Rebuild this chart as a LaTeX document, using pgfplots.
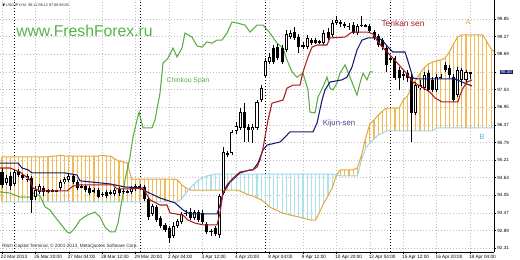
\documentclass[border=0pt]{standalone}
\usepackage{fontspec}
\setmainfont{Liberation Sans}
\newfontfamily\dejavu{DejaVu Sans}
\usepackage{pgfplots}
\usepackage{pgfplotstable}
\pgfplotsset{compat=1.18}
\definecolor{tenkan}{RGB}{170,30,30}
\definecolor{kijun}{RGB}{25,25,115}
\definecolor{chinkou}{RGB}{90,172,70}
\definecolor{spanA}{RGB}{226,166,62}
\definecolor{spanB}{RGB}{160,215,226}
\definecolor{hatchA}{RGB}{242,186,84}
\definecolor{hatchB}{RGB}{172,224,234}
\definecolor{labB}{RGB}{90,180,205}
\definecolor{gridc}{RGB}{190,190,190}
\definecolor{navybox}{RGB}{22,22,112}
\definecolor{wm}{RGB}{84,178,72}

% USDJPY H4 candles: open high low close
\pgfplotstableread{
o h l c
94.85 94.98 94.33 94.43
94.49 94.75 94.43 94.65
94.72 94.85 94.26 94.39
94.46 94.92 94.39 94.85
94.88 94.95 94.69 94.75
94.75 94.78 94.59 94.65
94.59 94.78 94.52 94.72
94.65 94.72 93.51 93.94
94.03 94.39 93.94 94.26
94.20 94.46 94.13 94.39
94.33 94.39 94.07 94.20
94.23 94.30 94.16 94.26
94.26 94.30 94.20 94.23
94.23 94.26 94.20 94.26
94.33 94.59 94.26 94.52
94.52 94.69 94.46 94.62
94.59 94.82 94.52 94.72
94.72 94.78 94.46 94.52
94.52 94.59 94.26 94.33
94.36 94.46 94.33 94.39
94.39 94.43 94.20 94.26
94.33 94.39 94.10 94.16
94.23 94.33 94.16 94.26
94.26 94.33 94.00 94.03
94.10 94.20 94.03 94.13
94.20 94.26 94.00 94.07
94.16 94.26 94.10 94.20
94.13 94.33 94.07 94.26
94.30 94.36 94.07 94.16
94.20 94.30 94.13 94.23
94.20 94.26 94.16 94.20
94.20 94.39 94.13 94.33
94.30 94.46 94.23 94.39
94.39 94.46 94.26 94.33
94.36 94.43 93.90 93.97
93.97 94.03 93.28 93.38
93.48 93.80 93.41 93.74
93.71 93.77 93.22 93.28
93.34 93.41 93.02 93.08
93.12 93.18 92.89 92.96
93.02 93.08 92.53 92.69
92.75 93.22 92.69 93.08
93.08 93.31 93.02 93.25
93.22 93.54 93.15 93.48
93.48 93.61 93.41 93.51
93.54 93.67 93.28 93.34
93.34 93.61 93.28 93.54
93.54 93.61 93.22 93.28
93.51 93.61 93.15 93.22
93.15 93.22 92.82 92.89
92.92 92.99 92.75 92.89
93.02 93.08 92.75 92.82
92.79 94.13 92.69 94.07
94.16 95.67 94.10 95.50
95.47 95.54 95.34 95.40
95.47 96.22 95.40 96.16
96.19 96.48 96.09 96.35
96.29 96.94 96.22 96.81
96.81 97.10 95.83 96.29
96.32 96.42 95.83 96.22
96.22 96.42 95.80 96.32
96.29 97.20 96.22 97.14
97.20 97.69 97.14 97.59
97.99 98.57 97.92 98.48
98.44 98.74 98.38 98.61
98.90 99.00 98.38 98.44
98.93 99.03 98.51 98.57
98.90 99.00 98.38 98.44
98.84 99.49 98.77 99.36
99.26 99.49 99.20 99.39
99.42 99.59 99.16 99.23
99.26 99.36 98.74 98.93
99.00 99.10 98.87 98.93
98.93 99.33 98.87 99.23
99.16 99.23 99.00 99.06
99.16 99.23 99.03 99.06
99.10 99.16 99.03 99.10
99.06 99.49 99.00 99.39
99.42 99.55 99.16 99.23
99.33 99.82 99.26 99.72
99.72 99.95 99.65 99.82
99.75 99.82 99.59 99.69
99.65 99.75 99.55 99.69
99.62 99.72 99.49 99.59
99.65 99.75 99.36 99.39
99.39 99.69 99.33 99.62
99.65 99.95 99.59 99.65
99.65 99.69 99.59 99.62
99.62 99.69 99.39 99.46
99.42 99.49 99.16 99.23
99.29 99.36 98.93 99.00
99.16 99.23 98.84 98.93
98.90 99.00 98.12 98.35
98.57 98.64 98.44 98.51
98.57 98.64 97.85 97.92
98.18 98.28 97.53 97.92
98.05 98.18 97.85 98.02
98.08 98.18 97.79 97.92
97.95 98.05 95.83 96.78
96.78 97.79 96.71 97.69
97.59 97.86 97.53 97.69
97.59 98.12 97.53 98.02
98.08 98.18 97.46 97.53
97.86 97.95 97.46 97.53
97.53 98.05 97.46 97.95
97.95 98.05 97.89 97.95
98.35 98.44 98.12 98.18
98.25 98.35 97.92 98.02
97.95 98.05 97.14 97.20
97.36 98.28 97.30 98.18
97.86 98.25 97.66 98.18
97.86 98.18 97.79 98.12
98.12 98.12 97.88 98.08
}\candles

% Senkou span A and B per bar
\pgfplotstableread{
b A B
0 95.34 93.87
1 95.34 93.87
2 95.34 93.87
3 95.34 93.87
4 95.34 93.87
5 95.34 93.87
6 95.34 93.87
7 95.34 93.87
8 95.34 93.87
9 95.34 93.87
10 95.34 93.87
11 95.34 93.87
12 95.37 93.87
13 95.37 93.87
14 95.40 93.87
15 95.37 93.87
16 95.37 93.87
17 95.37 93.87
18 95.37 93.87
19 95.37 93.87
20 95.37 93.87
21 95.37 93.87
22 95.37 93.87
23 95.37 93.87
24 95.40 93.87
25 95.37 93.87
26 95.37 93.87
27 95.27 93.87
28 95.21 93.87
29 95.18 93.87
30 95.14 93.87
31 94.62 93.87
32 94.62 93.87
33 94.62 93.87
34 94.62 93.87
35 94.62 93.87
36 94.62 93.87
37 94.62 93.87
38 94.62 93.87
39 94.62 93.87
40 94.62 93.87
41 94.62 93.87
42 94.59 93.87
43 94.43 93.97
44 94.33 94.16
45 94.26 94.33
46 94.26 94.46
47 94.26 94.59
48 94.26 94.65
49 94.26 94.72
50 94.26 94.75
51 94.26 94.78
52 94.26 94.78
53 94.26 94.78
54 94.26 94.78
55 94.26 94.78
56 94.26 94.78
57 94.23 94.78
58 94.16 94.78
59 94.10 94.78
60 94.07 94.78
61 94.00 94.78
62 93.94 94.78
63 93.84 94.78
64 93.71 94.78
65 93.64 94.78
66 93.58 94.78
67 93.51 94.78
68 93.48 94.78
69 93.44 94.78
70 93.41 94.78
71 93.38 94.78
72 93.34 94.78
73 93.31 94.78
74 93.28 94.78
75 93.28 94.78
76 93.54 94.78
77 93.84 94.78
78 94.07 94.78
79 94.33 94.78
80 94.75 94.75
81 94.92 94.72
82 94.92 94.72
83 94.92 94.72
84 94.92 94.72
85 94.98 94.72
86 95.40 95.24
87 95.96 95.63
88 96.42 95.80
89 96.55 95.93
90 96.71 96.06
91 96.84 96.12
92 96.94 96.19
93 96.94 96.19
94 96.94 96.19
95 96.94 96.19
96 97.20 96.19
97 97.33 96.19
98 97.66 96.19
99 97.86 96.19
100 98.08 96.19
101 98.25 96.19
102 98.38 96.19
103 98.44 96.19
104 98.48 96.29
105 98.51 96.29
106 98.57 96.29
107 98.77 96.29
108 99.03 96.29
109 99.26 96.29
110 99.33 96.29
111 99.33 96.29
112 99.33 96.29
113 99.33 96.29
114 99.33 96.29
115 99.33 96.29
116 99.10 96.29
117 98.87 96.29
118 98.74 96.29
}\cloud

\pgfplotsset{barstyle/.style={only marks, mark size=0pt, mark options={draw=none, fill=none}, forget plot,
  error bars/.cd, y dir=both, y explicit, error mark=none}}

\begin{document}
\begin{tikzpicture}
\begin{axis}[
  at={(0,0)}, anchor=south west,
  scale only axis, width=370.5pt, height=189pt,
  xmin=-0.478, xmax=117.70, ymin=92.235, ymax=100.471,
  axis x line*=bottom, axis y line*=right,
  axis line style={line width=0.6pt, black},
  xtick={0,8,...,112},
  xticklabels={22 Mar 2013,25 Mar 20:00,27 Mar 04:00,28 Mar 12:00,29 Mar 20:00,2 Apr 04:00,3 Apr 12:00,4 Apr 20:00,8 Apr 04:00,9 Apr 12:00,10 Apr 20:00,12 Apr 04:00,15 Apr 12:00,16 Apr 20:00,18 Apr 04:00},
  ytick={92.357,92.932,93.510,94.085,94.661,95.239,95.814,96.389,96.968,97.543,98.121,98.697,99.275,99.850},
  yticklabels={92.31,92.89,93.47,94.05,94.63,95.21,95.79,96.37,96.95,97.53,{},98.69,99.27,99.85},
  tick align=outside, major tick length=1.6pt,
  tick style={black, line width=0.45pt},
  grid=major,
  major grid style={gridc, line width=0.45pt, dash pattern=on 0.75pt off 1.5pt},
  xticklabel style={font=\fontsize{3.5}{4}\selectfont, anchor=north west, inner xsep=0pt, inner ysep=0.4pt, xshift=-1pt},
  yticklabel style={font=\fontsize{3.4}{4}\selectfont, anchor=west, inner xsep=0.8pt},
  extra x ticks={3,33,63,93},
  extra x tick labels={},
  extra x tick style={grid=major, major grid style={black, line width=0.5pt, dash pattern=on 0.75pt off 1.5pt}, major tick length=0pt},
  clip=true,
]
% cloud hatching
\addplot[barstyle, error bar style={draw=hatchA, line width=0.85pt}]
  table[x=b, y expr={(\thisrow{A}+\thisrow{B})/2}, y error expr={max(\thisrow{A}-\thisrow{B},0)/2}] {\cloud};
\addplot[barstyle, error bar style={draw=hatchB, line width=0.85pt}]
  table[x=b, y expr={(\thisrow{A}+\thisrow{B})/2}, y error expr={max(\thisrow{B}-\thisrow{A},0)/2}] {\cloud};
\addplot[spanA, line width=0.75pt, forget plot] table[x=b, y=A] {\cloud};
\addplot[spanB, line width=0.75pt, forget plot] table[x=b, y=B] {\cloud};

% Chinkou span
\addplot[chinkou, line width=0.8pt] coordinates {
(-0.48,94.20) (1.91,94.16) (4.31,94.03) (6.70,94.03) (7.42,94.16) (9.09,94.07) (10.29,93.71) (11.48,93.61)
(12.68,93.38) (13.88,93.18) (15.55,92.89) (16.27,92.85) (17.46,93.02) (18.66,93.28) (20.33,93.44) (22.25,93.54)
(23.44,93.38) (24.64,93.05) (25.84,92.89) (27.03,92.89) (27.75,93.18) (28.71,93.94) (29.43,94.59) (30.62,95.34)
(31.34,95.99) (32.30,96.55) (32.78,96.81) (33.73,96.29) (35.89,96.29) (36.60,96.55) (37.80,97.43) (38.52,98.41)
(39.71,98.57) (40.91,98.90) (41.87,98.61) (43.06,98.90) (43.78,99.39) (45.45,99.26) (46.65,98.97) (47.85,98.93)
(49.04,99.10) (50.24,99.06) (51.44,99.16) (52.63,99.16) (53.83,99.39) (55.02,99.75) (56.22,99.72) (58.13,99.65)
(59.33,99.42) (61.00,99.65) (62.44,99.65) (64.11,99.39) (65.79,99.06) (67.22,98.90) (68.18,98.51) (69.38,98.12)
(70.57,97.95) (72.01,98.08) (73.21,97.53) (73.68,96.81) (74.88,96.78) (75.60,97.30) (76.79,97.63) (77.75,97.95)
(78.47,97.59) (79.19,97.53) (80.14,97.76) (80.86,98.08) (82.06,98.35) (83.25,97.95) (84.93,97.36) (85.65,97.76)
(86.36,98.08) (87.32,97.86) (88.04,98.12) (88.76,98.12)
};

% candles: wicks, bodies, hollow bullish bodies
\addplot[barstyle, error bar style={draw=black, line width=0.6pt}]
  table[x expr=\coordindex, y expr={(\thisrow{h}+\thisrow{l})/2}, y error expr={(\thisrow{h}-\thisrow{l})/2}] {\candles};
\addplot[barstyle, error bar style={draw=black, line width=2.3pt}]
  table[x expr=\coordindex, y expr={(\thisrow{o}+\thisrow{c})/2}, y error expr={max(abs(\thisrow{o}-\thisrow{c})/2,0.017)}] {\candles};
\addplot[barstyle, error bar style={draw=white, line width=0.9pt}]
  table[x expr=\coordindex, y expr={(\thisrow{o}+\thisrow{c})/2}, y error expr={max((\thisrow{c}-\thisrow{o})/2-0.03,0)}] {\candles};

% Kijun-sen
\addplot[kijun, line width=0.8pt] coordinates {
(-0.5,95.14) (3.83,95.14) (4.78,94.98) (6.22,94.92) (7.18,94.82) (15.07,94.82) (17.94,94.75) (18.66,94.56)
(25.84,94.46) (29.43,94.36) (33.01,94.33) (34.69,94.20) (37.80,94.00) (41.39,93.84) (43.30,93.61) (44.98,93.48)
(51.44,93.48) (52.15,93.77) (52.87,94.16) (53.83,94.36) (54.55,94.52) (56.94,94.82) (59.33,94.92) (60.05,94.92)
(61.24,95.14) (62.44,95.57) (63.40,95.73) (66.51,95.83) (67.70,95.99) (68.90,96.16) (74.40,96.16) (75.36,96.45)
(76.56,97.20) (77.27,97.53) (78.47,97.79) (81.34,97.86) (82.54,97.95) (83.73,98.28) (84.93,98.84) (86.12,99.16)
(87.56,99.23) (89.95,99.23) (90.91,99.16) (92.34,98.93) (93.54,98.77) (96.41,98.77) (96.89,98.57) (97.61,98.25)
(98.33,97.92) (99.52,97.89) (108.37,97.89) (110.05,97.79) (112.44,97.66)
};
% Tenkan-sen
\addplot[tenkan, line width=0.8pt] coordinates {
(-0.5,94.98) (1.91,94.98) (4.31,94.85) (5.50,94.72) (6.70,94.59) (7.42,94.33) (9.09,94.23) (15.55,94.23)
(16.99,94.39) (18.66,94.43) (26.56,94.43) (27.51,94.30) (31.34,94.30) (33.73,94.33) (34.69,94.10) (35.41,93.94)
(37.80,93.77) (39.47,93.77) (40.19,93.51) (43.30,93.44) (44.50,93.28) (46.17,93.18) (48.09,93.12) (51.44,93.12)
(52.15,93.51) (52.87,94.16) (53.83,94.43) (55.26,94.65) (56.94,94.85) (60.05,94.92) (61.00,95.01) (61.72,95.24)
(62.44,95.63) (63.64,96.55) (64.59,97.10) (67.22,97.20) (68.18,97.59) (69.62,97.69) (71.29,97.69) (72.01,98.12)
(73.21,98.61) (74.16,98.93) (75.36,99.00) (77.75,99.00) (78.47,99.23) (82.06,99.26) (83.73,99.42) (87.56,99.42)
(88.76,99.36) (89.95,99.10) (91.63,98.84) (93.54,98.57) (95.22,98.31) (96.89,98.05) (98.33,97.79) (100.0,97.66)
(102.39,97.46) (103.59,97.27) (105.26,97.14) (109.09,97.14) (109.57,97.36) (110.29,97.59) (111.24,97.79) (112.44,97.86)
};
\end{axis}
% labels placed in pixel units of the picture (origin top-left of plot area)
\begin{scope}[x=0.75pt, y=-0.75pt, shift={(0pt,189pt)}]
\node[anchor=base west, inner sep=0pt, text=wm, font=\fontsize{11.8}{12}\selectfont] at (16,37) {www.FreshForex.ru};
\node[text=chinkou, inner sep=0pt, font=\fontsize{5.1}{6}\selectfont] at (188,81) {Chinkou Span};
\node[text=tenkan, inner sep=0pt, font=\fontsize{6.3}{7}\selectfont] at (403,23.5) {Tenkan sen};
\node[text=spanA, inner sep=0pt, font=\fontsize{5.5}{6}\selectfont] at (468,22) {A};
\node[text=kijun!80, inner sep=0pt, font=\fontsize{5.8}{7}\selectfont] at (339,124) {Kijun-sen};
\node[text=labB, inner sep=0pt, font=\fontsize{5.5}{6}\selectfont] at (482,137) {B};
\node[anchor=west, inner sep=0pt, text=black!85, font=\fontsize{3.5}{4}\selectfont] at (2,246) {Ritch Capital Terminal, © 2001-2013, MetaQuotes Software Corp.};
\node[anchor=west, inner sep=0pt, text=black!85, font=\fontsize{2.8}{3.5}\selectfont] at (2,5) {{\dejavu ▼} USDJPY,H4\ \ 98.12 98.12 97.88 98.08};
\node[anchor=west, fill=navybox, text=white, inner xsep=0.6pt, inner ysep=0.5pt, font=\fontsize{3.4}{4}\selectfont] at (499.5,72) {98.08};
\end{scope}
\pgfresetboundingbox
\path[use as bounding box] (0pt,-6pt) rectangle (390pt,189pt);
\end{tikzpicture}
\end{document}
